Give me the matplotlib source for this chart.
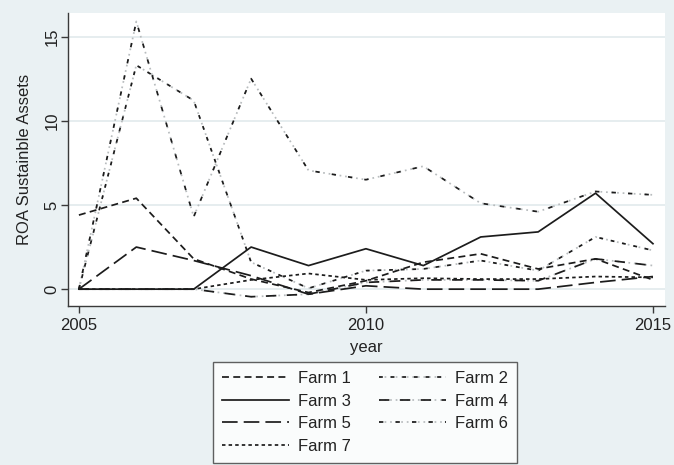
import matplotlib
matplotlib.use("Agg")
import matplotlib.pyplot as plt
from matplotlib.legend_handler import HandlerTuple

plt.rcParams['font.family'] = ['Liberation Sans', 'DejaVu Sans']

years = [2005, 2006, 2007, 2008, 2009, 2010, 2011, 2012, 2013, 2014, 2015]
farm1 = [4.4, 5.4, 1.8, 0.6, -0.2, 0.5, 1.6, 2.1, 1.2, 1.8, 0.55]
farm2 = [0.0, 13.3, 11.2, 1.6, 0.05, 1.1, 1.2, 1.7, 1.1, 3.1, 2.3]
farm3 = [0.0, 0.0, 0.0, 2.5, 1.4, 2.4, 1.4, 3.1, 3.4, 5.7, 2.7]
farm4 = [0.0, 0.0, 0.0, -0.45, -0.3, 0.4, 0.55, 0.55, 0.5, 1.8, 1.4]
farm5 = [0.0, 2.5, 1.7, 0.8, -0.3, 0.2, 0.0, 0.0, 0.0, 0.4, 0.75]
farm6 = [0.0, 15.9, 4.3, 12.5, 7.05, 6.5, 7.3, 5.1, 4.6, 5.8, 5.6]
farm7 = [0.0, 0.0, 0.0, 0.55, 0.93, 0.55, 0.65, 0.6, 0.6, 0.75, 0.7]

labels = ["Farm 1", "Farm 2", "Farm 3", "Farm 4", "Farm 5", "Farm 6", "Farm 7"]
series = [farm1, farm2, farm3, farm4, farm5, farm6, farm7]

BG = "#EAF1F3"
DARK = "#1c1c1c"
LIGHT = "#b8bcbe"
LW = 1.25

# (dark dash pattern, draw light dotted underlay?)
styles = [
    ((0, (4, 2.5)), False),
    ((0, (2.2, 4.5)), True),
    ("solid", False),
    ((0, (6, 6)), True),
    ((0, (9, 3.5)), False),
    ((0, (2.5, 7)), True),
    ((0, (2, 1.8)), False),
]

fig = plt.figure(figsize=(6.74, 4.65), dpi=100, facecolor=BG)
ax = fig.add_axes([68 / 674, 1 - 306 / 465, (665 - 68) / 674, (306 - 13) / 465])
ax.set_facecolor("white")

handles = []
for vals, (pat, under), lab in zip(series, styles, labels):
    parts = []
    if under:
        u, = ax.plot(years, vals, color=LIGHT, lw=LW, linestyle=(0, (1, 2.2)), zorder=2)
        parts.append(u)
    d, = ax.plot(years, vals, color=DARK, lw=LW, linestyle=pat, zorder=3)
    parts.append(d)
    handles.append(tuple(parts))

ax.set_xlim(2004.81, 2015.21)
ax.set_ylim(-1.0, 16.4)
ax.set_xticks([2005, 2010, 2015])
ax.set_yticks([0, 5, 10, 15])
ax.yaxis.grid(True, color="#E2EAEC", lw=1.2)
ax.set_axisbelow(True)

for s in ["top", "right"]:
    ax.spines[s].set_visible(False)
for s in ["left", "bottom"]:
    ax.spines[s].set_color("#3a3a3a")
    ax.spines[s].set_linewidth(1.0)

ax.tick_params(axis="both", direction="out", length=5, width=1.0, color="#3a3a3a",
               labelsize=12, labelcolor="#222222")
ax.tick_params(axis="y", pad=1)
for t in ax.get_yticklabels():
    t.set_rotation(90)
    t.set_va("center")

ax.set_xlabel("year", fontsize=12, color="#222222", labelpad=5)
ax.set_ylabel("ROA Sustainble Assets", fontsize=12, color="#222222", labelpad=9)

# fill the two legend columns row by row
order = [0, 2, 4, 6, 1, 3, 5]
leg = fig.legend([handles[i] for i in order], [labels[i] for i in order],
                 handler_map={tuple: HandlerTuple(ndivide=1)},
                 loc="upper left", bbox_to_anchor=(213 / 674, 1 - 362 / 465),
                 borderaxespad=0, ncol=2, fontsize=12, frameon=True, fancybox=False,
                 handlelength=4.0, handletextpad=0.55, columnspacing=1.7,
                 labelspacing=0.45, borderpad=0.55)
leg.get_frame().set_edgecolor("#3a3a3a")
leg.get_frame().set_linewidth(1.0)
for t in leg.get_texts():
    t.set_color("#222222")

fig.savefig("out.png", dpi=100, facecolor=BG)
